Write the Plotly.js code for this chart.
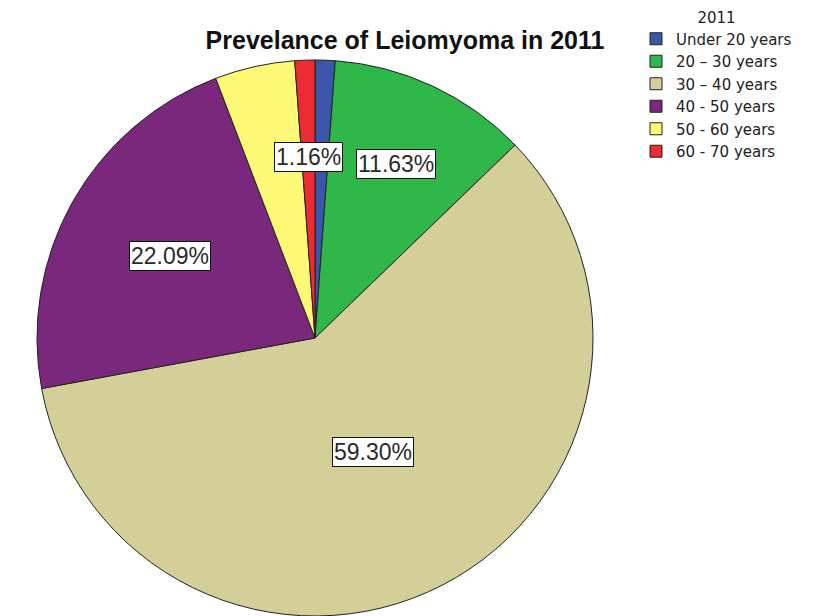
<!DOCTYPE html>
<html>
<head>
<meta charset="utf-8">
<script src="https://cdn.plot.ly/plotly-3.0.1.min.js"></script>
<style>html,body{margin:0;padding:0;background:#fff;}#chart{width:814px;height:616px;}</style>
</head>
<body>
<div id="chart"></div>
<script>
// ---- data ----
var categories = ["Under 20 years", "20 \u2013 30 years", "30 \u2013 40 years", "40 - 50 years", "50 - 60 years", "60 - 70 years"];
var counts = [1, 10, 51, 19, 4, 1];
var legendTitle = "2011";
var chartTitle = "Prevelance of Leiomyoma in 2011";

// ---- styling ----
var colors = ["#3b55a8", "#2fb74a", "#d4cf99", "#7a287b", "#fdf976", "#ec2b33"];
var labelled = [false, true, true, true, false, true];
var labelRadius = [0.6, 0.69, 0.46, 0.6, 0.6, 0.65];
var W = 814, H = 616;
var cx = 315, cy = 338, R = 278;

var total = counts.reduce(function(a, b){ return a + b; }, 0);
var annotations = [];
var cum = 0;
for (var i = 0; i < counts.length; i++) {
  var mid = (cum + counts[i] / 2) / total;
  cum += counts[i];
  if (!labelled[i]) continue;
  var th = mid * 2 * Math.PI;
  var px = cx + labelRadius[i] * R * Math.sin(th);
  var py = cy - labelRadius[i] * R * Math.cos(th);
  annotations.push({
    x: px / W, y: 1 - py / H, xref: "paper", yref: "paper",
    xanchor: "center", yanchor: "middle", showarrow: false,
    text: (counts[i] / total * 100).toFixed(2) + "%",
    font: {family: "Liberation Sans, Arial, sans-serif", size: 23, color: "#2a2a2a"},
    bgcolor: "#ffffff", bordercolor: "#111", borderwidth: 1, borderpad: 1
  });
}

var trace = {
  type: "pie",
  labels: categories,
  values: counts,
  sort: false,
  direction: "clockwise",
  rotation: 0,
  textinfo: "none",
  hoverinfo: "label+percent",
  marker: {colors: colors, line: {color: "#222", width: 1}},
  domain: {x: [(cx - R) / W, (cx + R) / W], y: [1 - (cy + R) / H, 1 - (cy - R) / H]}
};

var layout = {
  width: W, height: H,
  margin: {l: 0, r: 0, t: 0, b: 0},
  paper_bgcolor: "#fff",
  font: {family: "Liberation Sans, Arial, sans-serif", color: "#222"},
  title: {
    text: chartTitle,
    x: 405 / W, xanchor: "center", y: 1 - 40 / H, yanchor: "middle",
    font: {family: "Liberation Sans, Arial, sans-serif", size: 25, weight: "bold", color: "#111"}
  },
  showlegend: true,
  legend: {
    x: 636 / W, xanchor: "left", y: 1 - 3 / H, yanchor: "top",
    title: {text: legendTitle, side: "top center", font: {size: 15}},
    font: {family: "DejaVu Sans, sans-serif", size: 15, color: "#222"},
    bgcolor: "rgba(0,0,0,0)", itemwidth: 30, tracegroupgap: 0
  },
  annotations: annotations
};

Plotly.newPlot("chart", [trace], layout, {displayModeBar: false, staticPlot: true});
</script>
</body>
</html>
